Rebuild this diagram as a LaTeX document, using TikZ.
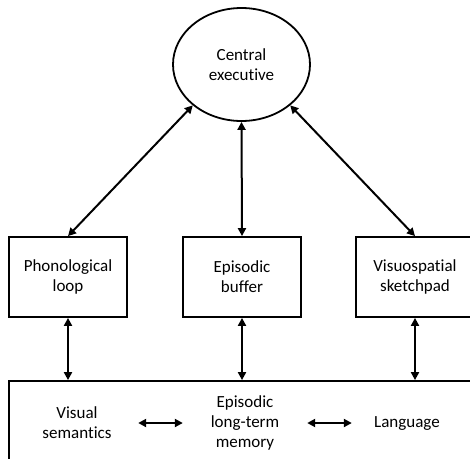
\documentclass[tikz,border=0pt]{standalone}
\usepackage{fontspec}
\setmainfont{Carlito}[Ligatures=NoCommon]
\usetikzlibrary{arrows.meta,shapes.geometric}

\begin{document}
\begin{tikzpicture}[x=1pt,y=-1pt,
    font=\fontsize{17}{20}\selectfont,
    link/.style={{Triangle[length=8pt,width=8pt]}-{Triangle[length=8pt,width=8pt]},line width=2pt}]

      \useasboundingbox (0,0) rectangle (470,458);
      \clip (0,0) rectangle (470,458);

      \node[ellipse,draw,line width=1.8pt,minimum width=137pt,minimum height=113pt,
            align=center] (ce) at (241.5,64.5) {Central\\executive};

      \begin{scope}[every node/.style={rectangle,draw,line width=1.8pt,align=center,
            minimum width=118pt,minimum height=80pt,inner sep=0pt}]
        \node (pl) at (68,277)  {Phonological\\loop};
        \node (eb) at (242,277) {Episodic\\buffer};
        \node (vs) at (415,277) {Visuospatial\\sketchpad};
        \node[minimum width=466pt,minimum height=84pt] (ltm) at (242,423) {};
      \end{scope}

      \begin{scope}[every node/.style={align=center,inner sep=0pt,minimum height=60pt}]
        \node[minimum width=122pt] (vsem) at (77,423)  {Visual\\semantics};
        \node[minimum width=124pt] (eltm) at (245,423) {Episodic\\long-term\\memory};
        \node[minimum width=110pt] (lang) at (407,423) {Language};
      \end{scope}

      \begin{scope}[every path/.style={link}]
        \draw (ce.220) -- (pl.north);
        \draw (ce.south) -- (eb.north);
        \draw (ce.320) -- (vs.north);
        \draw (pl.south) -- (pl.south |- ltm.north);
        \draw (eb.south) -- (eb.south |- ltm.north);
        \draw (vs.south) -- (vs.south |- ltm.north);
        \draw (vsem.east) -- (eltm.west);
        \draw (eltm.east) -- (lang.west);
      \end{scope}

    \end{tikzpicture}
\end{document}
